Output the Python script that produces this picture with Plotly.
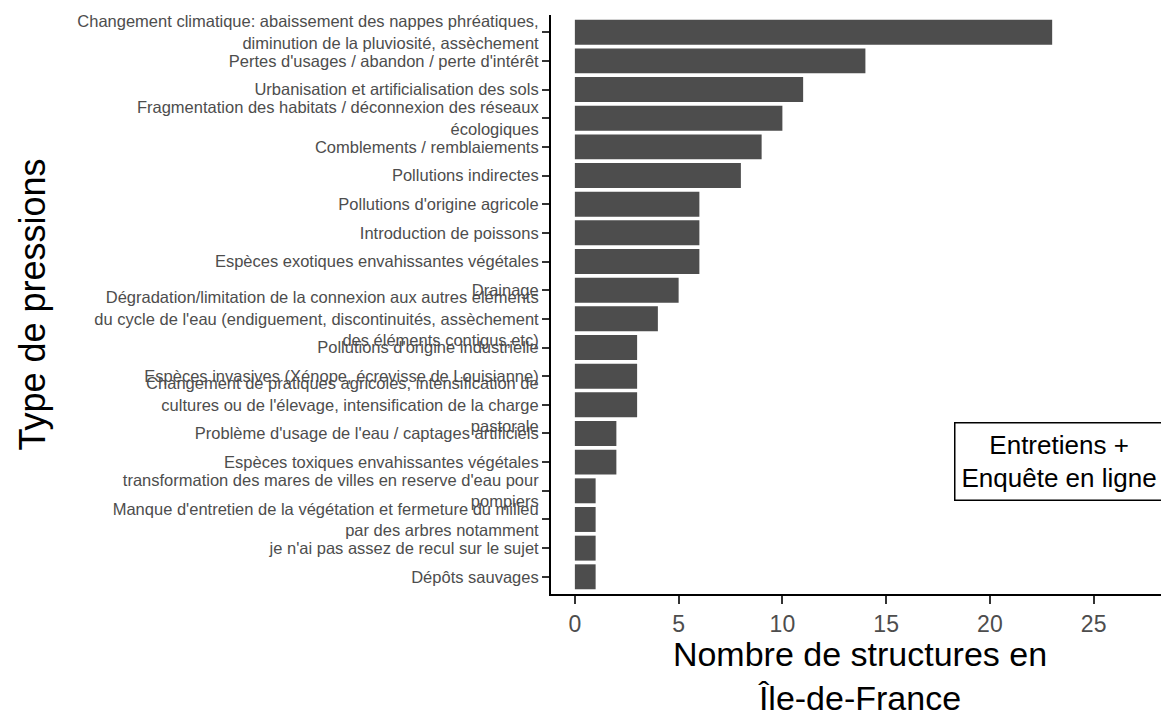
import plotly.graph_objects as go

categories = [
    "Changement climatique: abaissement des nappes phréatiques,\ndiminution de la pluviosité, assèchement",
    "Pertes d'usages / abandon / perte d'intérêt",
    "Urbanisation et artificialisation des sols",
    "Fragmentation des habitats / déconnexion des réseaux\nécologiques",
    "Comblements / remblaiements",
    "Pollutions indirectes",
    "Pollutions d'origine agricole",
    "Introduction de poissons",
    "Espèces exotiques envahissantes végétales",
    "Drainage",
    "Dégradation/limitation de la connexion aux autres éléments\ndu cycle de l'eau (endiguement, discontinuités, assèchement\ndes éléments contigus,etc)",
    "Pollutions d'origine industrielle",
    "Espèces invasives (Xénope, écrevisse de Louisianne)",
    "Changement de pratiques agricoles, intensification de\ncultures ou de l'élevage, intensification de la charge\npastorale",
    "Problème d'usage de l'eau / captages artificiels",
    "Espèces toxiques envahissantes végétales",
    "transformation des mares de villes en reserve d'eau pour\npompiers",
    "Manque d'entretien de la végétation et fermeture du milieu\npar des arbres notamment",
    "je n'ai pas assez de recul sur le sujet",
    "Dépôts sauvages",
]
counts = [23, 14, 11, 10, 9, 8, 6, 6, 6, 5, 4, 3, 3, 3, 2, 2, 1, 1, 1, 1]
x_ticks = [0, 5, 10, 15, 20, 25]
legend_label = "Entretiens +<br>Enquête en ligne"
x_title = "Nombre de structures en<br>Île-de-France"
y_title = "Type de pressions"

FONT = "Liberation Sans, Arial, Helvetica, sans-serif"

fig = go.Figure(
    go.Bar(
        x=counts,
        y=categories,
        orientation="h",
        width=0.87,
        marker=dict(color="#4d4d4d", line=dict(width=0)),
        showlegend=False,
    )
)

# the page body has an 8px default margin, so the figure is sized to fit the window
fig.update_layout(
    template="none",
    width=1161,
    height=709,
    margin=dict(l=543, r=0, t=7, b=123, pad=0),
    plot_bgcolor="white",
    paper_bgcolor="white",
    font=dict(family=FONT, color="black"),
    showlegend=False,
)

fig.update_xaxes(
    range=[-1.15, 28.63],
    tickvals=x_ticks,
    ticktext=[str(v) for v in x_ticks],
    showline=True,
    linecolor="black",
    linewidth=2,
    ticks="outside",
    ticklen=8,
    tickwidth=2,
    tickcolor="#333333",
    tickfont=dict(family=FONT, size=23, color="#4d4d4d"),
    showgrid=False,
    zeroline=False,
    automargin=False,
    title=dict(text=x_title, font=dict(family=FONT, size=34, color="black"), standoff=17),
)

fig.update_yaxes(
    type="category",
    categoryorder="array",
    categoryarray=categories,
    range=[19.6, -0.6],
    tickvals=categories,
    ticktext=[c.replace("\n", "<br>") for c in categories],
    showline=True,
    linecolor="black",
    linewidth=2,
    ticks="outside",
    ticklen=7,
    tickwidth=2,
    tickcolor="#333333",
    tickfont=dict(family=FONT, size=16.5, color="#4d4d4d"),
    showgrid=False,
    zeroline=False,
    automargin=False,
    title=dict(text=y_title, font=dict(family=FONT, size=36, color="black"), standoff=21),
)

fig.add_annotation(
    text=legend_label,
    xref="paper",
    yref="paper",
    x=0.822,
    y=0.2297,
    xanchor="center",
    yanchor="middle",
    showarrow=False,
    align="center",
    font=dict(family=FONT, size=26, color="black"),
    bgcolor="white",
    bordercolor="black",
    borderwidth=1.5,
    borderpad=6,
)

fig.write_html("out.html")
